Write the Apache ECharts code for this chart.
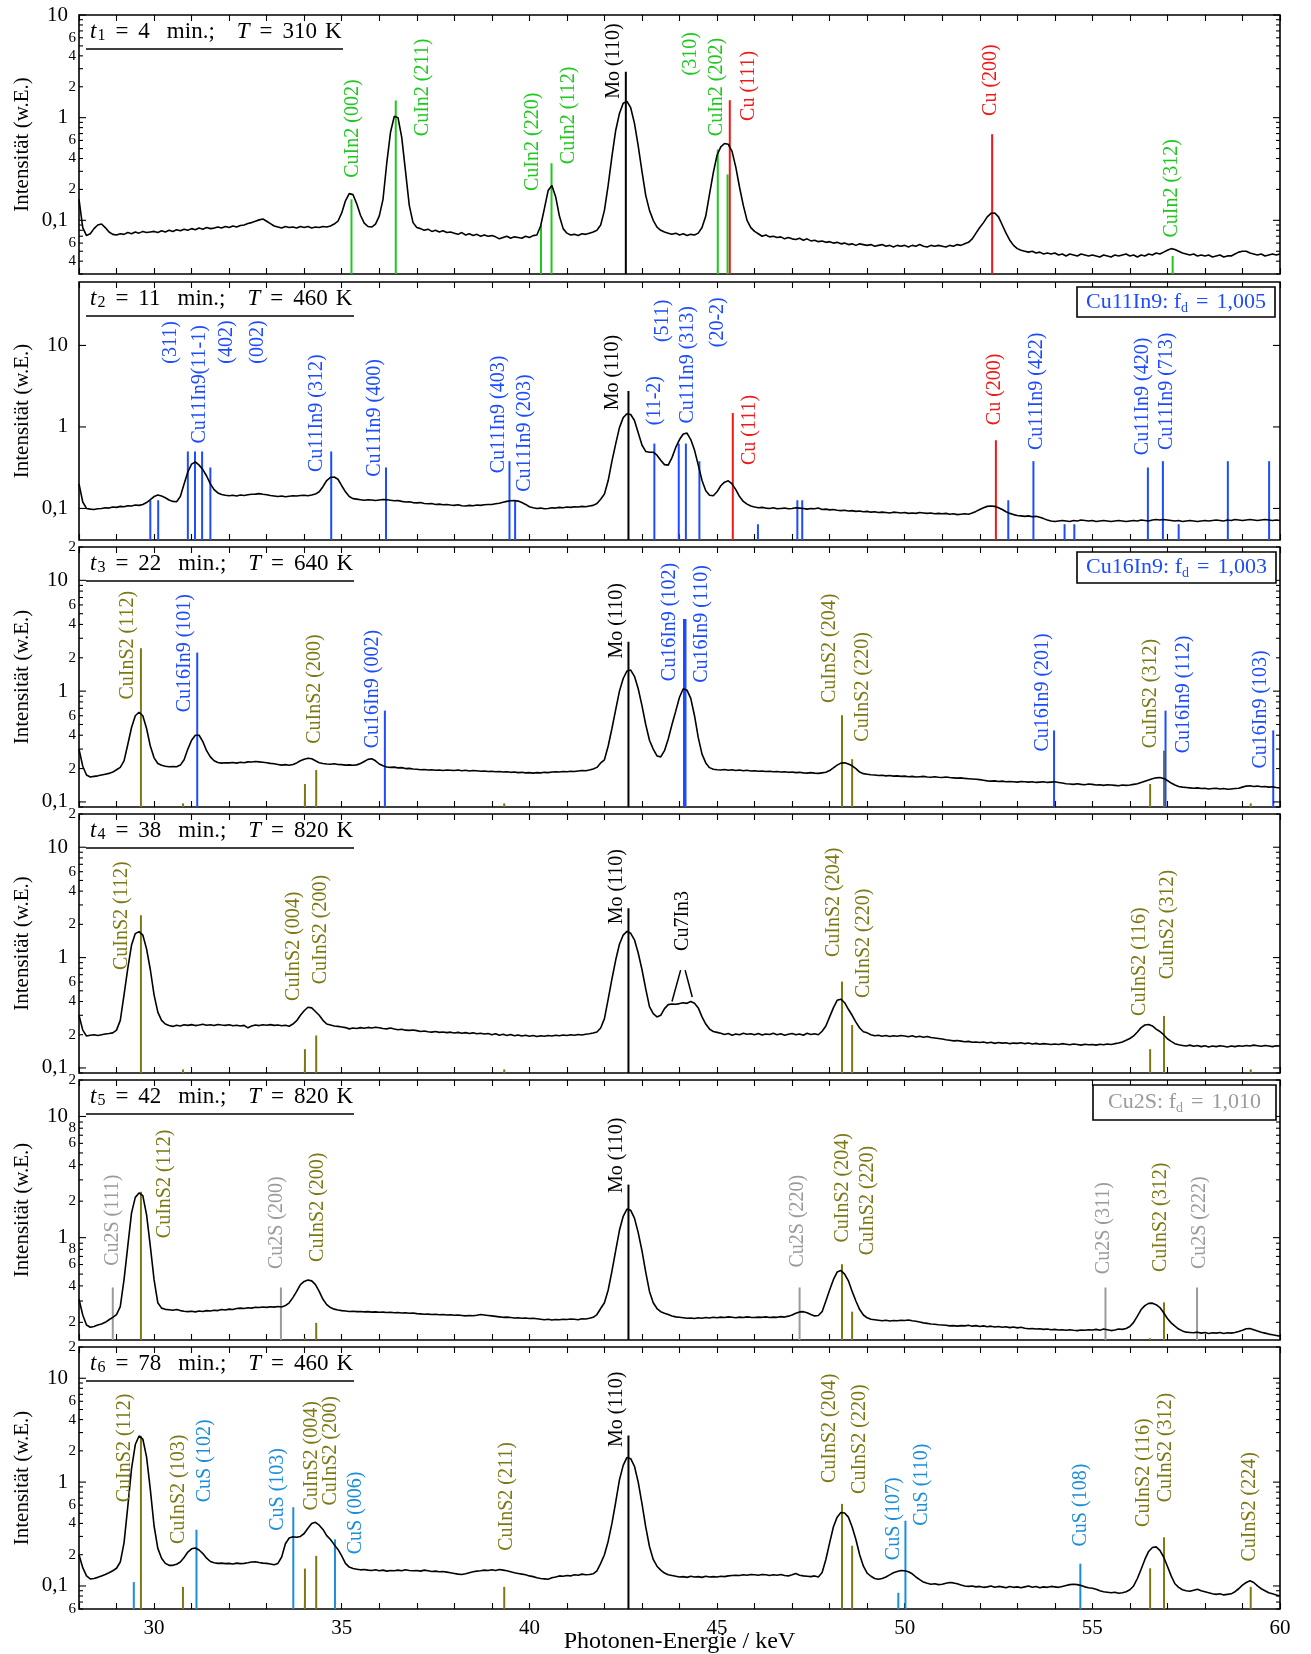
<!DOCTYPE html>
<html>
<head>
<meta charset="utf-8">
<script src="https://cdn.jsdelivr.net/npm/echarts@6.0.0/dist/echarts.min.js"></script>
<style>
  html, body { margin: 0; padding: 0; background: #ffffff; }
  #chart { width: 1311px; height: 1654px; }
</style>
</head>
<body>
<div id="chart"></div>
<script>
// ---------------------------------------------------------------------------
// In-situ EDXRD spectra of the Cu-In(-S) precursor during annealing.
// All spectra share one detector energy grid (keV).
// ---------------------------------------------------------------------------
const energyKeV = [
  28,28.1,28.2,28.3,28.4,28.5,28.6,28.7,28.8,28.9,
  29,29.1,29.2,29.3,29.4,29.5,29.6,29.7,29.8,29.9,
  30,30.1,30.2,30.3,30.4,30.5,30.6,30.7,30.8,30.9,
  31,31.1,31.2,31.3,31.4,31.5,31.6,31.7,31.8,31.9,
  32,32.1,32.2,32.3,32.4,32.5,32.6,32.7,32.8,32.9,
  33,33.1,33.2,33.3,33.4,33.5,33.6,33.7,33.8,33.9,
  34,34.1,34.2,34.3,34.4,34.5,34.6,34.7,34.8,34.9,
  35,35.1,35.2,35.3,35.4,35.5,35.6,35.7,35.8,35.9,
  36,36.1,36.2,36.3,36.4,36.5,36.6,36.7,36.8,36.9,
  37,37.1,37.2,37.3,37.4,37.5,37.6,37.7,37.8,37.9,
  38,38.1,38.2,38.3,38.4,38.5,38.6,38.7,38.8,38.9,
  39,39.1,39.2,39.3,39.4,39.5,39.6,39.7,39.8,39.9,
  40,40.1,40.2,40.3,40.4,40.5,40.6,40.7,40.8,40.9,
  41,41.1,41.2,41.3,41.4,41.5,41.6,41.7,41.8,41.9,
  42,42.1,42.2,42.3,42.4,42.5,42.6,42.7,42.8,42.9,
  43,43.1,43.2,43.3,43.4,43.5,43.6,43.7,43.8,43.9,
  44,44.1,44.2,44.3,44.4,44.5,44.6,44.7,44.8,44.9,
  45,45.1,45.2,45.3,45.4,45.5,45.6,45.7,45.8,45.9,
  46,46.1,46.2,46.3,46.4,46.5,46.6,46.7,46.8,46.9,
  47,47.1,47.2,47.3,47.4,47.5,47.6,47.7,47.8,47.9,
  48,48.1,48.2,48.3,48.4,48.5,48.6,48.7,48.8,48.9,
  49,49.1,49.2,49.3,49.4,49.5,49.6,49.7,49.8,49.9,
  50,50.1,50.2,50.3,50.4,50.5,50.6,50.7,50.8,50.9,
  51,51.1,51.2,51.3,51.4,51.5,51.6,51.7,51.8,51.9,
  52,52.1,52.2,52.3,52.4,52.5,52.6,52.7,52.8,52.9,
  53,53.1,53.2,53.3,53.4,53.5,53.6,53.7,53.8,53.9,
  54,54.1,54.2,54.3,54.4,54.5,54.6,54.7,54.8,54.9,
  55,55.1,55.2,55.3,55.4,55.5,55.6,55.7,55.8,55.9,
  56,56.1,56.2,56.3,56.4,56.5,56.6,56.7,56.8,56.9,
  57,57.1,57.2,57.3,57.4,57.5,57.6,57.7,57.8,57.9,
  58,58.1,58.2,58.3,58.4,58.5,58.6,58.7,58.8,58.9,
  59,59.1,59.2,59.3,59.4,59.5,59.6,59.7,59.8,59.9,
  60
];

// Measured intensities (arb. units), one value per grid energy.
const intensityT1 = [
  0.16,0.085,0.071,0.074,0.083,0.09,0.092,0.085,0.077,0.073,
  0.072,0.074,0.073,0.076,0.074,0.077,0.075,0.078,0.076,0.077,
  0.078,0.076,0.079,0.077,0.08,0.078,0.081,0.079,0.082,0.08,
  0.083,0.081,0.084,0.082,0.085,0.083,0.084,0.086,0.084,0.087,
  0.085,0.088,0.086,0.089,0.09,0.093,0.095,0.098,0.101,0.103,
  0.098,0.093,0.088,0.086,0.084,0.087,0.085,0.086,0.084,0.087,
  0.085,0.087,0.084,0.086,0.085,0.087,0.086,0.088,0.092,0.098,
  0.118,0.155,0.182,0.178,0.145,0.112,0.094,0.087,0.086,0.092,
  0.11,0.16,0.36,0.72,1.03,1.0,0.64,0.3,0.14,0.095,
  0.085,0.083,0.08,0.082,0.078,0.08,0.077,0.079,0.076,0.077,
  0.075,0.073,0.076,0.072,0.074,0.071,0.073,0.07,0.072,0.07,
  0.071,0.069,0.066,0.068,0.07,0.067,0.069,0.068,0.067,0.07,
  0.068,0.071,0.072,0.088,0.13,0.195,0.218,0.17,0.11,0.083,
  0.075,0.072,0.073,0.071,0.074,0.073,0.075,0.077,0.08,0.09,
  0.125,0.22,0.42,0.75,1.1,1.38,1.44,1.25,0.88,0.53,
  0.3,0.175,0.125,0.1,0.086,0.08,0.077,0.075,0.073,0.075,
  0.072,0.074,0.071,0.073,0.072,0.075,0.085,0.11,0.18,0.29,
  0.43,0.52,0.56,0.55,0.47,0.33,0.21,0.14,0.1,0.085,
  0.078,0.074,0.07,0.072,0.069,0.07,0.068,0.069,0.066,0.068,
  0.066,0.065,0.067,0.064,0.066,0.063,0.064,0.062,0.063,0.061,
  0.062,0.06,0.061,0.059,0.06,0.058,0.059,0.057,0.059,0.058,
  0.057,0.058,0.056,0.057,0.058,0.056,0.057,0.055,0.057,0.056,
  0.057,0.055,0.057,0.056,0.058,0.056,0.055,0.057,0.056,0.057,
  0.056,0.055,0.057,0.056,0.058,0.057,0.059,0.061,0.066,0.075,
  0.085,0.095,0.108,0.117,0.118,0.108,0.09,0.075,0.064,0.057,
  0.053,0.051,0.05,0.049,0.05,0.048,0.049,0.047,0.048,0.047,
  0.048,0.046,0.047,0.045,0.047,0.046,0.045,0.047,0.046,0.045,
  0.046,0.045,0.044,0.046,0.045,0.044,0.046,0.045,0.046,0.047,
  0.045,0.046,0.044,0.046,0.045,0.047,0.046,0.048,0.047,0.049,
  0.051,0.053,0.052,0.05,0.048,0.047,0.046,0.047,0.045,0.046,
  0.045,0.046,0.044,0.045,0.046,0.044,0.045,0.045,0.047,0.049,
  0.05,0.05,0.048,0.047,0.046,0.047,0.045,0.046,0.047,0.046,
  0.047
];
const intensityT2 = [
  0.2,0.12,0.1,0.098,0.097,0.099,0.1,0.102,0.101,0.104,
  0.103,0.106,0.105,0.108,0.107,0.11,0.109,0.112,0.118,0.128,
  0.14,0.146,0.142,0.135,0.127,0.122,0.121,0.14,0.2,0.28,
  0.35,0.372,0.34,0.3,0.25,0.2,0.17,0.155,0.148,0.145,
  0.143,0.145,0.142,0.146,0.144,0.147,0.149,0.15,0.152,0.149,
  0.147,0.144,0.142,0.14,0.142,0.139,0.141,0.143,0.142,0.144,
  0.145,0.143,0.146,0.15,0.16,0.185,0.22,0.24,0.243,0.228,
  0.19,0.16,0.14,0.132,0.13,0.128,0.126,0.128,0.127,0.125,
  0.127,0.129,0.128,0.126,0.124,0.125,0.122,0.12,0.121,0.118,
  0.117,0.118,0.115,0.114,0.115,0.112,0.113,0.111,0.112,0.11,
  0.109,0.111,0.108,0.107,0.109,0.108,0.11,0.109,0.111,0.112,
  0.112,0.114,0.116,0.119,0.122,0.124,0.125,0.123,0.118,0.112,
  0.105,0.102,0.1,0.101,0.099,0.1,0.102,0.101,0.103,0.102,
  0.104,0.103,0.105,0.104,0.106,0.105,0.107,0.109,0.115,0.13,
  0.15,0.22,0.38,0.62,0.98,1.3,1.45,1.42,1.2,0.85,
  0.6,0.5,0.49,0.49,0.45,0.39,0.345,0.34,0.42,0.56,
  0.7,0.82,0.84,0.7,0.52,0.34,0.22,0.165,0.145,0.143,
  0.16,0.19,0.21,0.218,0.2,0.17,0.14,0.122,0.113,0.107,
  0.104,0.102,0.103,0.101,0.1,0.102,0.099,0.1,0.101,0.099,
  0.1,0.102,0.101,0.1,0.098,0.1,0.099,0.101,0.097,0.098,
  0.096,0.097,0.095,0.094,0.095,0.093,0.094,0.092,0.093,0.091,
  0.092,0.09,0.091,0.089,0.09,0.089,0.088,0.09,0.089,0.088,
  0.089,0.087,0.088,0.087,0.089,0.088,0.087,0.088,0.086,0.087,
  0.086,0.087,0.085,0.086,0.084,0.085,0.086,0.085,0.088,0.092,
  0.097,0.102,0.106,0.107,0.106,0.102,0.097,0.091,0.087,0.084,
  0.082,0.081,0.08,0.081,0.079,0.08,0.078,0.075,0.072,0.07,
  0.069,0.07,0.071,0.07,0.069,0.071,0.07,0.072,0.071,0.07,
  0.071,0.069,0.07,0.071,0.07,0.069,0.07,0.071,0.07,0.069,
  0.07,0.071,0.07,0.072,0.071,0.07,0.072,0.073,0.072,0.073,
  0.072,0.071,0.07,0.071,0.069,0.07,0.071,0.07,0.069,0.07,
  0.071,0.07,0.071,0.072,0.071,0.07,0.072,0.071,0.073,0.072,
  0.071,0.072,0.073,0.072,0.071,0.072,0.073,0.072,0.071,0.072,
  0.071
];
const intensityT3 = [
  0.3,0.21,0.175,0.168,0.17,0.172,0.175,0.178,0.181,0.186,
  0.195,0.205,0.235,0.33,0.47,0.6,0.645,0.6,0.46,0.32,
  0.25,0.222,0.214,0.21,0.208,0.209,0.208,0.215,0.24,0.3,
  0.36,0.4,0.4,0.35,0.29,0.255,0.235,0.227,0.224,0.226,
  0.225,0.227,0.224,0.228,0.226,0.23,0.229,0.232,0.23,0.228,
  0.226,0.223,0.221,0.218,0.215,0.217,0.214,0.218,0.225,0.235,
  0.243,0.248,0.245,0.235,0.226,0.222,0.22,0.219,0.221,0.218,
  0.217,0.215,0.216,0.214,0.216,0.222,0.232,0.242,0.245,0.235,
  0.22,0.212,0.207,0.205,0.206,0.203,0.204,0.2,0.201,0.198,
  0.197,0.195,0.196,0.194,0.195,0.193,0.194,0.192,0.194,0.193,
  0.192,0.194,0.191,0.193,0.19,0.192,0.191,0.189,0.19,0.188,
  0.189,0.187,0.188,0.186,0.187,0.185,0.186,0.184,0.185,0.183,
  0.184,0.182,0.184,0.183,0.185,0.184,0.186,0.187,0.186,0.188,
  0.187,0.189,0.188,0.19,0.192,0.191,0.194,0.198,0.205,0.225,
  0.24,0.32,0.46,0.68,1.0,1.3,1.52,1.55,1.36,1.05,
  0.74,0.5,0.36,0.3,0.26,0.255,0.29,0.37,0.5,0.66,
  0.88,1.05,1.02,0.86,0.6,0.38,0.27,0.225,0.204,0.197,
  0.195,0.194,0.196,0.193,0.195,0.192,0.194,0.191,0.193,0.19,
  0.191,0.189,0.19,0.188,0.189,0.187,0.188,0.186,0.187,0.185,
  0.186,0.184,0.185,0.183,0.182,0.184,0.182,0.181,0.183,0.185,
  0.192,0.203,0.215,0.224,0.226,0.22,0.212,0.2,0.186,0.18,
  0.178,0.176,0.175,0.173,0.174,0.172,0.173,0.171,0.172,0.17,
  0.171,0.169,0.17,0.168,0.169,0.17,0.168,0.167,0.169,0.167,
  0.166,0.168,0.166,0.165,0.164,0.165,0.163,0.162,0.161,0.16,
  0.159,0.157,0.155,0.154,0.155,0.153,0.154,0.152,0.153,0.152,
  0.151,0.153,0.152,0.151,0.152,0.15,0.151,0.152,0.15,0.151,
  0.152,0.15,0.148,0.146,0.145,0.144,0.146,0.144,0.143,0.145,
  0.144,0.142,0.143,0.141,0.143,0.142,0.141,0.14,0.142,0.141,
  0.142,0.144,0.146,0.15,0.154,0.158,0.162,0.165,0.166,0.163,
  0.156,0.148,0.142,0.138,0.136,0.135,0.134,0.133,0.134,0.132,
  0.133,0.131,0.132,0.133,0.131,0.132,0.13,0.131,0.132,0.133,
  0.136,0.139,0.14,0.138,0.139,0.137,0.138,0.136,0.137,0.135,
  0.134
];
const intensityT4 = [
  0.3,0.22,0.195,0.198,0.2,0.197,0.2,0.203,0.205,0.208,
  0.22,0.27,0.46,0.8,1.3,1.65,1.72,1.6,1.2,0.78,
  0.46,0.32,0.27,0.25,0.242,0.238,0.244,0.24,0.246,0.243,
  0.247,0.242,0.245,0.249,0.244,0.246,0.242,0.248,0.245,0.243,
  0.246,0.241,0.244,0.24,0.243,0.231,0.24,0.245,0.242,0.246,
  0.244,0.247,0.243,0.245,0.241,0.244,0.239,0.25,0.268,0.3,
  0.33,0.355,0.35,0.325,0.3,0.27,0.25,0.245,0.24,0.238,
  0.235,0.232,0.226,0.23,0.228,0.232,0.229,0.233,0.23,0.234,
  0.231,0.228,0.226,0.23,0.225,0.222,0.224,0.22,0.219,0.221,
  0.218,0.214,0.216,0.213,0.211,0.214,0.21,0.212,0.209,0.211,
  0.207,0.21,0.206,0.209,0.205,0.208,0.204,0.206,0.203,0.205,
  0.2,0.204,0.198,0.202,0.197,0.201,0.196,0.199,0.195,0.198,
  0.194,0.197,0.193,0.196,0.194,0.197,0.195,0.198,0.196,0.199,
  0.197,0.2,0.198,0.201,0.199,0.202,0.204,0.207,0.212,0.23,
  0.28,0.42,0.64,0.95,1.32,1.6,1.73,1.66,1.45,1.1,
  0.78,0.52,0.36,0.31,0.29,0.3,0.345,0.375,0.38,0.378,
  0.383,0.39,0.385,0.4,0.385,0.35,0.29,0.25,0.225,0.214,
  0.21,0.206,0.201,0.205,0.198,0.203,0.2,0.206,0.202,0.204,
  0.2,0.205,0.199,0.203,0.201,0.206,0.2,0.204,0.198,0.202,
  0.205,0.2,0.203,0.198,0.206,0.201,0.204,0.2,0.215,0.24,
  0.29,0.35,0.41,0.42,0.39,0.34,0.3,0.26,0.23,0.213,
  0.208,0.2,0.196,0.198,0.194,0.197,0.193,0.196,0.194,0.197,
  0.195,0.192,0.196,0.191,0.194,0.19,0.193,0.189,0.187,0.185,
  0.183,0.18,0.178,0.176,0.177,0.175,0.173,0.174,0.171,0.172,
  0.17,0.172,0.168,0.171,0.167,0.17,0.168,0.169,0.166,0.168,
  0.167,0.169,0.166,0.168,0.165,0.167,0.164,0.166,0.165,0.163,
  0.165,0.163,0.166,0.164,0.162,0.165,0.163,0.161,0.164,0.162,
  0.163,0.161,0.164,0.162,0.165,0.163,0.166,0.168,0.172,0.178,
  0.185,0.195,0.212,0.232,0.245,0.248,0.24,0.225,0.214,0.2,
  0.184,0.174,0.166,0.162,0.16,0.158,0.161,0.157,0.16,0.156,
  0.159,0.155,0.158,0.156,0.159,0.157,0.155,0.158,0.156,0.159,
  0.157,0.16,0.158,0.161,0.159,0.157,0.16,0.158,0.156,0.159,
  0.158
];
const intensityT5 = [
  0.31,0.23,0.19,0.182,0.185,0.19,0.194,0.2,0.21,0.22,
  0.232,0.27,0.45,0.85,1.6,2.15,2.34,2.22,1.55,0.85,
  0.45,0.29,0.262,0.256,0.254,0.252,0.255,0.25,0.247,0.245,
  0.247,0.244,0.248,0.246,0.25,0.248,0.252,0.25,0.255,0.253,
  0.257,0.255,0.26,0.262,0.26,0.264,0.262,0.266,0.265,0.268,
  0.266,0.269,0.267,0.27,0.268,0.275,0.29,0.32,0.36,0.41,
  0.435,0.448,0.44,0.41,0.36,0.31,0.28,0.265,0.257,0.253,
  0.25,0.248,0.246,0.247,0.245,0.246,0.244,0.245,0.243,0.244,
  0.242,0.243,0.241,0.242,0.24,0.241,0.239,0.24,0.238,0.239,
  0.236,0.235,0.233,0.234,0.232,0.233,0.231,0.232,0.23,0.231,
  0.229,0.23,0.228,0.226,0.228,0.227,0.229,0.232,0.23,0.228,
  0.226,0.224,0.222,0.22,0.221,0.219,0.217,0.218,0.216,0.217,
  0.215,0.216,0.214,0.212,0.21,0.212,0.209,0.211,0.21,0.212,
  0.211,0.213,0.212,0.21,0.214,0.213,0.216,0.22,0.232,0.26,
  0.29,0.37,0.53,0.78,1.15,1.5,1.72,1.68,1.45,1.1,
  0.78,0.52,0.36,0.29,0.26,0.245,0.238,0.232,0.226,0.222,
  0.22,0.218,0.216,0.217,0.215,0.218,0.216,0.219,0.217,0.22,
  0.218,0.221,0.219,0.222,0.22,0.218,0.221,0.219,0.222,0.22,
  0.219,0.221,0.22,0.222,0.219,0.221,0.22,0.223,0.221,0.225,
  0.23,0.238,0.244,0.245,0.24,0.232,0.226,0.228,0.245,0.3,
  0.37,0.45,0.52,0.535,0.5,0.44,0.36,0.3,0.255,0.23,
  0.218,0.212,0.21,0.208,0.206,0.208,0.205,0.207,0.206,0.208,
  0.207,0.209,0.206,0.204,0.201,0.198,0.196,0.194,0.193,0.191,
  0.19,0.189,0.187,0.188,0.186,0.188,0.187,0.189,0.186,0.188,
  0.185,0.187,0.184,0.186,0.183,0.185,0.182,0.184,0.181,0.183,
  0.18,0.182,0.179,0.177,0.178,0.176,0.177,0.175,0.176,0.174,
  0.175,0.173,0.174,0.172,0.174,0.172,0.171,0.173,0.172,0.174,
  0.173,0.175,0.172,0.176,0.174,0.171,0.173,0.176,0.175,0.178,
  0.185,0.2,0.225,0.255,0.275,0.287,0.288,0.28,0.265,0.24,
  0.215,0.198,0.186,0.176,0.17,0.166,0.165,0.164,0.166,0.163,
  0.165,0.162,0.164,0.163,0.165,0.162,0.164,0.163,0.165,0.168,
  0.172,0.177,0.178,0.174,0.17,0.166,0.163,0.16,0.158,0.156,
  0.154
];
const intensityT6 = [
  0.2,0.15,0.125,0.117,0.118,0.121,0.125,0.129,0.134,0.14,
  0.148,0.17,0.26,0.58,1.35,2.3,2.78,2.6,1.75,0.85,
  0.38,0.23,0.185,0.165,0.158,0.158,0.162,0.17,0.188,0.212,
  0.228,0.232,0.222,0.205,0.185,0.172,0.167,0.165,0.166,0.164,
  0.165,0.163,0.166,0.164,0.165,0.167,0.17,0.171,0.168,0.166,
  0.165,0.163,0.16,0.165,0.19,0.255,0.29,0.298,0.295,0.3,
  0.32,0.36,0.4,0.41,0.385,0.35,0.305,0.28,0.25,0.225,
  0.195,0.165,0.152,0.147,0.145,0.143,0.144,0.142,0.141,0.143,
  0.14,0.142,0.139,0.141,0.14,0.142,0.14,0.143,0.141,0.14,
  0.141,0.139,0.142,0.14,0.138,0.139,0.137,0.138,0.136,0.134,
  0.132,0.13,0.129,0.131,0.134,0.137,0.139,0.14,0.142,0.141,
  0.143,0.141,0.144,0.142,0.14,0.137,0.134,0.132,0.13,0.128,
  0.125,0.123,0.12,0.118,0.117,0.116,0.12,0.122,0.125,0.124,
  0.126,0.125,0.128,0.127,0.13,0.128,0.129,0.131,0.14,0.165,
  0.2,0.27,0.4,0.64,1.05,1.45,1.73,1.68,1.42,1.0,
  0.62,0.37,0.24,0.18,0.155,0.142,0.133,0.128,0.126,0.124,
  0.122,0.123,0.121,0.124,0.122,0.123,0.121,0.124,0.122,0.123,
  0.122,0.124,0.123,0.125,0.126,0.127,0.126,0.128,0.127,0.129,
  0.128,0.127,0.129,0.128,0.126,0.128,0.127,0.129,0.126,0.125,
  0.128,0.132,0.127,0.125,0.124,0.123,0.125,0.122,0.135,0.18,
  0.26,0.37,0.46,0.51,0.505,0.46,0.37,0.28,0.2,0.155,
  0.133,0.124,0.118,0.116,0.118,0.122,0.128,0.134,0.138,0.141,
  0.14,0.137,0.131,0.122,0.115,0.109,0.106,0.104,0.105,0.103,
  0.104,0.106,0.108,0.107,0.105,0.102,0.1,0.099,0.1,0.098,
  0.099,0.097,0.098,0.1,0.097,0.099,0.098,0.096,0.099,0.097,
  0.098,0.096,0.098,0.1,0.097,0.099,0.096,0.098,0.097,0.099,
  0.098,0.097,0.099,0.101,0.103,0.104,0.103,0.101,0.098,0.096,
  0.095,0.093,0.09,0.088,0.087,0.086,0.087,0.085,0.086,0.088,
  0.092,0.1,0.118,0.145,0.18,0.215,0.235,0.238,0.22,0.19,
  0.155,0.125,0.105,0.097,0.092,0.09,0.089,0.091,0.093,0.09,
  0.088,0.086,0.084,0.083,0.084,0.082,0.083,0.084,0.088,0.094,
  0.102,0.108,0.112,0.108,0.1,0.094,0.09,0.086,0.084,0.082,
  0.08
];

// Measurement conditions of each spectrum
const stepIndex = ['1', '2', '3', '4', '5', '6'];
const timeMinutes = [4, 11, 22, 38, 42, 78];
const temperatureK = [310, 460, 640, 820, 820, 460];

// Refined phases with lattice factor f_d (shown in the box of a panel)
const fitPhase = [null, 'Cu11In9', 'Cu16In9', null, 'Cu2S', null];
const fitFactor = [null, '1,005', '1,003', null, '1,010', null];

// Reference reflections: energy (keV), stick height, phase
const t1RefEnergy = [35.26, 36.44, 40.31, 40.59, 42.57, 45.02, 45.28, 45.34, 52.33, 57.14];
const t1RefHeight = [0.16, 1.47, 0.09, 0.36, 2.8, 0.49, 0.28, 1.48, 0.69, 0.045];
const t1RefPhase = ['CuIn2', 'CuIn2', 'CuIn2', 'CuIn2', 'Mo', 'CuIn2', 'CuIn2', 'Cu', 'Cu', 'CuIn2'];
const t1LabelText = ['CuIn2 (002)', 'CuIn2 (211)', 'CuIn2 (220)', 'CuIn2 (112)', 'Mo (110)', '(310)', 'CuIn2 (202)', 'Cu (111)', 'Cu (200)', 'CuIn2 (312)'];
const t1LabelPhase = ['CuIn2', 'CuIn2', 'CuIn2', 'CuIn2', 'Mo', 'CuIn2', 'CuIn2', 'Cu', 'Cu', 'CuIn2'];

const t2RefEnergy = [29.9, 30.11, 30.9, 31.09, 31.28, 31.5, 34.72, 36.18, 39.47, 39.62, 42.64, 43.33, 43.98, 44.17, 44.53, 45.42, 46.09, 47.14, 47.27, 52.43, 52.76, 53.43, 54.26, 54.52, 56.48, 56.88, 57.3, 58.61, 59.71];
const t2RefHeight = [0.126, 0.126, 0.5, 0.5, 0.5, 0.318, 0.5, 0.318, 0.38, 0.125, 2.76, 0.625, 0.625, 0.625, 0.38, 1.48, 0.064, 0.126, 0.126, 0.687, 0.126, 0.38, 0.064, 0.064, 0.318, 0.38, 0.064, 0.38, 0.38];
const t2RefPhase = ['Cu11In9', 'Cu11In9', 'Cu11In9', 'Cu11In9', 'Cu11In9', 'Cu11In9', 'Cu11In9', 'Cu11In9', 'Cu11In9', 'Cu11In9', 'Mo', 'Cu11In9', 'Cu11In9', 'Cu11In9', 'Cu11In9', 'Cu', 'Cu11In9', 'Cu11In9', 'Cu11In9', 'Cu', 'Cu11In9', 'Cu11In9', 'Cu11In9', 'Cu11In9', 'Cu11In9', 'Cu11In9', 'Cu11In9', 'Cu11In9', 'Cu11In9'];
const t2LabelText = ['(311)', 'Cu11In9(11-1)', '(402)', '(002)', 'Cu11In9 (312)', 'Cu11In9 (400)', 'Cu11In9 (403)', 'Cu11In9 (203)', 'Mo (110)', '(11-2)', '(511)', 'Cu11In9 (313)', '(20-2)', 'Cu (111)', 'Cu (200)', 'Cu11In9 (422)', 'Cu11In9 (420)', 'Cu11In9 (713)'];
const t2LabelPhase = ['Cu11In9', 'Cu11In9', 'Cu11In9', 'Cu11In9', 'Cu11In9', 'Cu11In9', 'Cu11In9', 'Cu11In9', 'Mo', 'Cu11In9', 'Cu11In9', 'Cu11In9', 'Cu11In9', 'Cu', 'Cu', 'Cu11In9', 'Cu11In9', 'Cu11In9'];

const t3RefEnergy = [29.65, 30.77, 31.15, 34.02, 34.32, 36.15, 39.33, 42.64, 44.12, 44.16, 48.33, 48.6, 53.98, 56.54, 56.91, 56.95, 59.22, 59.82];
const t3RefHeight = [2.44, 0.097, 2.23, 0.145, 0.194, 0.667, 0.097, 2.79, 4.48, 4.48, 0.605, 0.243, 0.442, 0.145, 0.29, 0.667, 0.097, 0.442];
const t3RefPhase = ['CuInS2', 'CuInS2', 'Cu16In9', 'CuInS2', 'CuInS2', 'Cu16In9', 'CuInS2', 'Mo', 'Cu16In9', 'Cu16In9', 'CuInS2', 'CuInS2', 'Cu16In9', 'CuInS2', 'CuInS2', 'Cu16In9', 'CuInS2', 'Cu16In9'];
const t3LabelText = ['CuInS2 (112)', 'Cu16In9 (101)', 'CuInS2 (200)', 'Cu16In9 (002)', 'Mo (110)', 'Cu16In9 (102)', 'Cu16In9 (110)', 'CuInS2 (204)', 'CuInS2 (220)', 'Cu16In9 (201)', 'CuInS2 (312)', 'Cu16In9 (112)', 'Cu16In9 (103)'];
const t3LabelPhase = ['CuInS2', 'Cu16In9', 'CuInS2', 'Cu16In9', 'Mo', 'Cu16In9', 'Cu16In9', 'CuInS2', 'CuInS2', 'Cu16In9', 'CuInS2', 'Cu16In9', 'Cu16In9'];

const t4RefEnergy = [29.65, 30.77, 34.02, 34.32, 39.33, 42.64, 48.33, 48.6, 56.54, 56.91, 59.22];
const t4RefHeight = [2.42, 0.097, 0.148, 0.197, 0.097, 2.8, 0.606, 0.245, 0.148, 0.296, 0.097];
const t4RefPhase = ['CuInS2', 'CuInS2', 'CuInS2', 'CuInS2', 'CuInS2', 'Mo', 'CuInS2', 'CuInS2', 'CuInS2', 'CuInS2', 'CuInS2'];
const t4LabelText = ['CuInS2 (112)', 'CuInS2 (004)', 'CuInS2 (200)', 'Mo (110)', 'Cu7In3', 'CuInS2 (204)', 'CuInS2 (220)', 'CuInS2 (116)', 'CuInS2 (312)'];
const t4LabelPhase = ['CuInS2', 'CuInS2', 'CuInS2', 'Mo', 'Cu7In3', 'CuInS2', 'CuInS2', 'CuInS2', 'CuInS2'];

const t5RefEnergy = [28.9, 29.65, 33.38, 34.02, 34.32, 42.64, 47.2, 48.33, 48.6, 55.35, 56.54, 56.91, 57.79];
const t5RefHeight = [0.388, 2.39, 0.388, 0.148, 0.198, 2.74, 0.388, 0.604, 0.245, 0.388, 0.148, 0.292, 0.388];
const t5RefPhase = ['Cu2S', 'CuInS2', 'Cu2S', 'CuInS2', 'CuInS2', 'Mo', 'Cu2S', 'CuInS2', 'CuInS2', 'Cu2S', 'CuInS2', 'CuInS2', 'Cu2S'];
const t5LabelText = ['Cu2S (111)', 'CuInS2 (112)', 'Cu2S (200)', 'CuInS2 (200)', 'Mo (110)', 'Cu2S (220)', 'CuInS2 (204)', 'CuInS2 (220)', 'Cu2S (311)', 'CuInS2 (312)', 'Cu2S (222)'];
const t5LabelPhase = ['Cu2S', 'CuInS2', 'Cu2S', 'CuInS2', 'Mo', 'Cu2S', 'CuInS2', 'CuInS2', 'Cu2S', 'CuInS2', 'Cu2S'];

const t6RefEnergy = [29.46, 29.65, 30.77, 31.13, 33.71, 34.02, 34.32, 34.82, 39.33, 42.64, 48.33, 48.6, 49.83, 50.02, 54.68, 56.54, 56.91, 59.22];
const t6RefHeight = [0.109, 2.79, 0.098, 0.348, 0.573, 0.147, 0.195, 0.281, 0.098, 2.81, 0.617, 0.244, 0.086, 0.425, 0.164, 0.148, 0.294, 0.098];
const t6RefPhase = ['CuS', 'CuInS2', 'CuInS2', 'CuS', 'CuS', 'CuInS2', 'CuInS2', 'CuS', 'CuInS2', 'Mo', 'CuInS2', 'CuInS2', 'CuS', 'CuS', 'CuS', 'CuInS2', 'CuInS2', 'CuInS2'];
const t6LabelText = ['CuInS2 (112)', 'CuInS2 (103)', 'CuS (102)', 'CuS (103)', 'CuInS2 (004)', 'CuInS2 (200)', 'CuS (006)', 'CuInS2 (211)', 'Mo (110)', 'CuInS2 (204)', 'CuInS2 (220)', 'CuS (107)', 'CuS (110)', 'CuS (108)', 'CuInS2 (116)', 'CuInS2 (312)', 'CuInS2 (224)'];
const t6LabelPhase = ['CuInS2', 'CuInS2', 'CuS', 'CuS', 'CuInS2', 'CuInS2', 'CuS', 'CuInS2', 'Mo', 'CuInS2', 'CuInS2', 'CuS', 'CuS', 'CuS', 'CuInS2', 'CuInS2', 'CuInS2'];

// ---------------------------------------------------------------------------
// Layout and styling
// ---------------------------------------------------------------------------
const FONT = '"Liberation Serif", "Times New Roman", serif';
const phaseColor = {
  CuIn2: '#1ec81e', Cu: '#f01818', Cu11In9: '#1d4cff', Cu16In9: '#1d4cff',
  CuInS2: '#7d7814', Cu2S: '#9a9a9a', CuS: '#1a8ed8', Mo: '#000000', Cu7In3: '#000000'
};

// Start point (energy, intensity) of every rotated reflection label
const t1LabelAt = [[35.29, 0.26], [37.15, 0.66], [40.08, 0.193], [41.04, 0.352], [42.24, 1.53], [44.3, 2.58], [44.99, 0.66], [45.85, 0.93], [52.28, 1.04], [57.12, 0.068]];
const t2LabelAt = [[30.44, 5.97], [31.23, 0.625], [31.95, 5.97], [32.76, 5.97], [34.33, 0.28], [35.88, 0.245], [39.19, 0.27], [39.89, 0.16], [42.22, 1.6], [43.34, 1.05], [43.55, 11], [44.22, 1.1], [45.01, 9.5], [45.87, 0.34], [52.39, 1.05], [53.53, 0.52], [56.33, 0.45], [56.99, 0.52]];
const t3LabelAt = [[29.3, 0.84], [30.83, 0.644], [34.29, 0.335], [35.82, 0.305], [42.33, 1.97], [43.75, 1.23], [44.58, 1.19], [48.01, 0.78], [48.88, 0.35], [53.67, 0.285], [56.56, 0.305], [57.43, 0.275], [59.48, 0.2]];
const t4LabelAt = [[29.13, 0.77], [33.71, 0.405], [34.44, 0.573], [42.33, 2.0], [44.08, 1.15], [48.11, 1.01], [48.9, 0.43], [56.26, 0.296], [57.01, 0.635]];
const t5LabelAt = [[28.9, 0.585], [30.29, 0.99], [33.28, 0.55], [34.36, 0.63], [42.33, 2.34], [47.16, 0.567], [48.35, 0.91], [49.02, 0.716], [55.3, 0.5], [56.81, 0.52], [57.85, 0.55]];
const t6LabelAt = [[29.21, 0.64], [30.66, 0.253], [31.34, 0.64], [33.3, 0.34], [34.2, 0.532], [34.7, 0.595], [35.37, 0.202], [39.41, 0.218], [42.33, 2.18], [48.01, 0.98], [48.79, 0.77], [49.72, 0.177], [50.45, 0.38], [54.68, 0.24], [56.36, 0.37], [56.95, 0.64], [59.2, 0.172]];

// Leader strokes that tie the Cu7In3 label to its double hump (panel 4)
const cu7In3Leader = [[44.03, 0.77, 43.8, 0.40], [44.15, 0.77, 44.34, 0.44]];

// Panel frames and log ranges
const panelBox = [
  { top: 15,   height: 259, yMin: 0.03,  yMax: 10, minor: true,  minorLabels: [2, 4, 6],    ruleEnd: 343 },
  { top: 282,  height: 258, yMin: 0.041, yMax: 60, minor: false, minorLabels: [],           ruleEnd: 354 },
  { top: 547,  height: 260, yMin: 0.09,  yMax: 20, minor: true,  minorLabels: [2, 4, 6],    ruleEnd: 354 },
  { top: 814,  height: 259, yMin: 0.09,  yMax: 20, minor: true,  minorLabels: [2, 4, 6],    ruleEnd: 354 },
  { top: 1080, height: 260, yMin: 0.143, yMax: 20, minor: true,  minorLabels: [2, 4, 6, 8], ruleEnd: 354 },
  { top: 1347, height: 262, yMin: 0.06,  yMax: 20, minor: true,  minorLabels: [2, 4, 6],    ruleEnd: 354 }
];
const fitBox = [null, { x: 1077, y: 287, w: 198, h: 30 }, { x: 1077, y: 552, w: 199, h: 31 }, null, { x: 1093, y: 1085, w: 183, h: 35 }, null];
const PLOT_LEFT = 79, PLOT_WIDTH = 1201;

const panels = [
  { spectrum: intensityT1, refE: t1RefEnergy, refH: t1RefHeight, refP: t1RefPhase, labText: t1LabelText, labPhase: t1LabelPhase, labAt: t1LabelAt },
  { spectrum: intensityT2, refE: t2RefEnergy, refH: t2RefHeight, refP: t2RefPhase, labText: t2LabelText, labPhase: t2LabelPhase, labAt: t2LabelAt },
  { spectrum: intensityT3, refE: t3RefEnergy, refH: t3RefHeight, refP: t3RefPhase, labText: t3LabelText, labPhase: t3LabelPhase, labAt: t3LabelAt },
  { spectrum: intensityT4, refE: t4RefEnergy, refH: t4RefHeight, refP: t4RefPhase, labText: t4LabelText, labPhase: t4LabelPhase, labAt: t4LabelAt },
  { spectrum: intensityT5, refE: t5RefEnergy, refH: t5RefHeight, refP: t5RefPhase, labText: t5LabelText, labPhase: t5LabelPhase, labAt: t5LabelAt },
  { spectrum: intensityT6, refE: t6RefEnergy, refH: t6RefHeight, refP: t6RefPhase, labText: t6LabelText, labPhase: t6LabelPhase, labAt: t6LabelAt }
];

// ---------------------------------------------------------------------------
// Build the option
// ---------------------------------------------------------------------------
const grid = [], xAxis = [], yAxis = [], series = [], graphic = [];

function logTicks(box) {
  const list = [];
  const lo = Math.floor(Math.log10(box.yMin)), hi = Math.ceil(Math.log10(box.yMax));
  for (let d = lo; d <= hi; d++) {
    for (let m = 1; m <= 9; m++) {
      if (m > 1 && !box.minor) continue;
      const v = +(m * Math.pow(10, d)).toPrecision(6);
      if (v < box.yMin * 0.9999 || v > box.yMax * 1.0001) continue;
      let label = '';
      if (m === 1) label = d >= 0 ? String(Math.pow(10, d)) : '0,' + '0'.repeat(-d - 1) + '1';
      else if (box.minorLabels.indexOf(m) >= 0) label = String(m);
      list.push({ v: v, major: m === 1, label: label });
    }
  }
  return list;
}

panels.forEach(function (p, i) {
  const box = panelBox[i];
  grid.push({ left: PLOT_LEFT, width: PLOT_WIDTH, top: box.top, height: box.height, show: true,
    borderColor: '#000', borderWidth: 1.6, backgroundColor: 'transparent' });
  xAxis.push({
    type: 'value', gridIndex: i, min: 28, max: 60, interval: 1, position: 'bottom',
    axisLine: { show: false }, splitLine: { show: false },
    axisTick: { show: true, inside: true, length: 6, lineStyle: { color: '#000', width: 1.1 } },
    axisLabel: {
      show: i === 5, margin: 9, color: '#000', fontFamily: FONT, fontSize: 21,
      formatter: function (v) { return v % 5 === 0 ? String(v) : ''; }
    }
  });
  yAxis.push({ type: 'log', logBase: 10, gridIndex: i, min: box.yMin, max: box.yMax, show: false });
});
// mirrored tick rows along the top edge of each frame
panels.forEach(function (p, i) {
  xAxis.push({
    type: 'value', gridIndex: i, min: 28, max: 60, interval: 1, position: 'top',
    axisLine: { show: false }, splitLine: { show: false }, axisLabel: { show: false },
    axisTick: { show: true, inside: true, length: 6, lineStyle: { color: '#000', width: 1.1 } }
  });
});

panels.forEach(function (p, i) {
  const box = panelBox[i];

  // reference sticks
  series.push({
    type: 'custom', xAxisIndex: i, yAxisIndex: i, z: 2, clip: true, silent: true,
    data: p.refE.map(function (e, k) { return [e, p.refH[k]]; }),
    renderItem: function (params, api) {
      const top = api.coord([api.value(0), api.value(1)]);
      const base = api.coord([api.value(0), box.yMin]);
      return { type: 'line', shape: { x1: top[0], y1: base[1], x2: top[0], y2: top[1] },
        style: { stroke: phaseColor[p.refP[params.dataIndex]], lineWidth: 2 } };
    }
  });

  // measured spectrum
  series.push({
    type: 'line', xAxisIndex: i, yAxisIndex: i, z: 3, silent: true,
    data: energyKeV.map(function (e, k) { return [e, p.spectrum[k]]; }),
    showSymbol: false, symbol: 'none', animation: false,
    lineStyle: { color: '#000', width: 1.6 }
  });

  // rotated reflection labels
  series.push({
    type: 'custom', xAxisIndex: i, yAxisIndex: i, z: 4, clip: false, silent: true,
    data: p.labAt,
    renderItem: function (params, api) {
      const pt = api.coord([api.value(0), api.value(1)]);
      return { type: 'text', x: pt[0], y: pt[1], rotation: Math.PI / 2,
        style: { text: p.labText[params.dataIndex], fill: phaseColor[p.labPhase[params.dataIndex]],
          font: '20px ' + FONT, align: 'left', verticalAlign: 'middle' } };
    }
  });

  // logarithmic ticks on both sides plus tick labels on the left
  const ticks = logTicks(box);
  series.push({
    type: 'custom', xAxisIndex: i, yAxisIndex: i, z: 5, clip: false, silent: true,
    data: ticks.map(function (t) { return [28, t.v]; }),
    renderItem: function (params, api) {
      const t = ticks[params.dataIndex];
      const cs = params.coordSys;
      const y = api.coord([28, t.v])[1];
      const len = t.major ? 7 : 4;
      const children = [
        { type: 'line', shape: { x1: cs.x, y1: y, x2: cs.x + len, y2: y }, style: { stroke: '#000', lineWidth: 1.1 } },
        { type: 'line', shape: { x1: cs.x + cs.width - len, y1: y, x2: cs.x + cs.width, y2: y }, style: { stroke: '#000', lineWidth: 1.1 } }
      ];
      if (t.label) {
        children.push({ type: 'text', x: t.major ? cs.x - 11 : cs.x - 3, y: y,
          style: { text: t.label, fill: '#000', font: (t.major ? '21px ' : '15px ') + FONT, align: 'right', verticalAlign: 'middle' } });
      }
      return { type: 'group', children: children };
    }
  });

  // y-axis title
  graphic.push({ type: 'text', x: 22, y: box.top + box.height / 2, rotation: Math.PI / 2, z: 100,
    style: { text: 'Intensität (w.E.)', fill: '#000', font: '21px ' + FONT, align: 'center', verticalAlign: 'middle' } });

  // time / temperature heading with rule beneath
  const rich = {
    it:  { fontFamily: FONT, fontSize: 23, fontStyle: 'italic', lineHeight: 28, verticalAlign: 'middle', fill: '#000' },
    sub: { fontFamily: FONT, fontSize: 16, lineHeight: 28, verticalAlign: 'bottom', padding: [0, 0, 2, 1], fill: '#000' },
    op:  { fontFamily: FONT, fontSize: 23, lineHeight: 28, padding: [0, 10, 0, 10], fill: '#000' },
    n:   { fontFamily: FONT, fontSize: 23, lineHeight: 28, fill: '#000' },
    u:   { fontFamily: FONT, fontSize: 23, lineHeight: 28, padding: [0, 0, 0, 17], fill: '#000' },
    T:   { fontFamily: FONT, fontSize: 23, lineHeight: 28, fontStyle: 'italic', padding: [0, 0, 0, 22], fill: '#000' },
    k:   { fontFamily: FONT, fontSize: 23, lineHeight: 28, padding: [0, 0, 0, 8], fill: '#000' }
  };
  graphic.push({ type: 'text', x: 90, y: box.top + 17, z: 100,
    style: { text: '{it|t}{sub|' + stepIndex[i] + '}{op|=}{n|' + timeMinutes[i] + '}{u|min.;}{T|T}{op|=}{n|' + temperatureK[i] + '}{k|K}',
      rich: rich, fill: '#000', align: 'left', verticalAlign: 'middle' } });
  graphic.push({ type: 'line', z: 100, shape: { x1: 86, y1: box.top + 34, x2: box.ruleEnd, y2: box.top + 34 },
    style: { stroke: '#000', lineWidth: 1.6 } });

  // refinement box
  const fb = fitBox[i];
  if (fb) {
    const col = phaseColor[fitPhase[i]];
    graphic.push({ type: 'rect', z: 100, shape: { x: fb.x, y: fb.y, width: fb.w, height: fb.h },
      style: { fill: '#fff', stroke: '#000', lineWidth: 1.6 } });
    graphic.push({ type: 'text', z: 101, x: fb.x + fb.w / 2, y: fb.y + fb.h / 2,
      style: { text: '{a|' + fitPhase[i] + ': f}{s|d}{o|=}{a|' + fitFactor[i] + '}',
        fill: col,
        rich: {
          a: { fontFamily: FONT, fontSize: 22, fill: col, lineHeight: 26 },
          s: { fontFamily: FONT, fontSize: 14, fill: col, lineHeight: 26, verticalAlign: 'bottom' },
          o: { fontFamily: FONT, fontSize: 22, fill: col, lineHeight: 26, padding: [0, 8, 0, 8] }
        },
        align: 'center', verticalAlign: 'middle' } });
  }
});

// Cu7In3 leader strokes in panel 4
series.push({
  type: 'custom', xAxisIndex: 3, yAxisIndex: 3, z: 4, clip: false, silent: true,
  data: cu7In3Leader,
  renderItem: function (params, api) {
    const a = api.coord([api.value(0), api.value(1)]);
    const b = api.coord([api.value(2), api.value(3)]);
    return { type: 'line', shape: { x1: a[0], y1: a[1], x2: b[0], y2: b[1] }, style: { stroke: '#000', lineWidth: 1.5 } };
  }
});

// x-axis title
graphic.push({ type: 'text', x: PLOT_LEFT + PLOT_WIDTH / 2, y: 1642, z: 100,
  style: { text: 'Photonen-Energie / keV', fill: '#000', font: '24px ' + FONT, align: 'center', verticalAlign: 'middle' } });

const chart = echarts.init(document.getElementById('chart'), null, { renderer: 'canvas', width: 1311, height: 1654 });
chart.setOption({
  backgroundColor: '#ffffff',
  animation: false,
  grid: grid,
  xAxis: xAxis,
  yAxis: yAxis,
  series: series,
  graphic: graphic
});
</script>
</body>
</html>
